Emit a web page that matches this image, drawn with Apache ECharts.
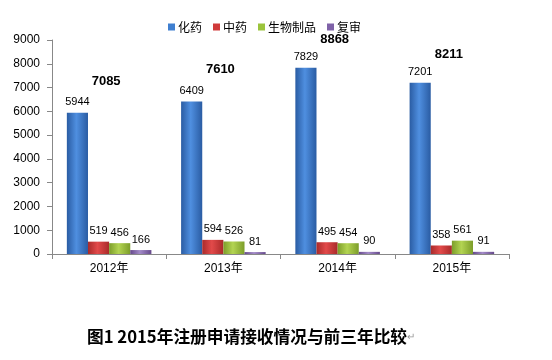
<!DOCTYPE html>
<html>
<head>
<meta charset="utf-8">
<script src="https://cdn.jsdelivr.net/npm/echarts@6/dist/echarts.min.js"></script>
<style>
html,body{margin:0;padding:0;background:#fff;}
#c{width:552px;height:360px;}
</style>
</head>
<body>
<div id="c"></div>
<script>
var categories = ['2012年', '2013年', '2014年', '2015年'];
var seriesNames = ['化药', '中药', '生物制品', '复审'];
var huayao = [5944, 6409, 7829, 7201];
var zhongyao = [519, 594, 495, 358];
var shengwu = [456, 526, 454, 561];
var fushen = [166, 81, 90, 91];
var totals = [7085, 7610, 8868, 8211];
var yTicks = { min: 0, max: 9000, interval: 1000 };
var titleText = '图1 2015年注册申请接收情况与前三年比较';

function grad(dark, light) {
  return new echarts.graphic.LinearGradient(0, 0, 1, 0, [
    { offset: 0, color: dark },
    { offset: 0.45, color: light },
    { offset: 1, color: dark }
  ]);
}
var colors = [
  grad('#2a5ca3', '#4f8fe0'),
  grad('#a92a2a', '#e24a4a'),
  grad('#7c9d2a', '#b3d452'),
  grad('#66498c', '#a38bc8')
];
var legendColors = ['#3f7fd0', '#d03a3a', '#9bc43c', '#7f62a8'];
var values = [huayao, zhongyao, shengwu, fushen];

var chart = echarts.init(document.getElementById('c'), null, { renderer: 'canvas' });
var font = 'Arial, "Liberation Sans", "Noto Sans CJK SC", sans-serif';

var series = values.map(function (arr, i) {
  return {
    name: seriesNames[i],
    type: 'bar',
    data: arr,
    barGap: '0%',
    barCategoryGap: '26%',
    itemStyle: { color: colors[i] },
    label: {
      show: true,
      position: 'top',
      distance: 5,
      color: '#000',
      fontSize: 11,
      fontFamily: font
    }
  };
});
series.push({
  name: 'total',
  type: 'scatter',
  data: totals,
  symbolSize: 0,
  itemStyle: { color: 'rgba(255,255,255,0)' },
  silent: true,
  label: {
    show: true,
    position: 'inside',
    offset: [-3, -4],
    formatter: '{c}',
    color: '#000',
    opacity: 1,
    textBorderWidth: 0,
    fontSize: 13,
    fontWeight: 'bold',
    fontFamily: font
  },
  z: 10
});

chart.setOption({
  animation: false,
  backgroundColor: '#fff',
  color: legendColors,
  title: {
    text: titleText + '{r|↵}',
    left: 82,
    top: 323,
    textStyle: {
      fontSize: 16.7,
      fontWeight: 'bold',
      color: '#000',
      fontFamily: '"Noto Sans CJK SC", sans-serif',
      rich: { r: { fontSize: 10, color: '#999', fontWeight: 'normal' } }
    }
  },
  legend: {
    data: seriesNames.map(function (n, i) {
      return { name: n, itemStyle: { color: legendColors[i] } };
    }),
    top: 16,
    left: 163,
    icon: 'rect',
    itemWidth: 7,
    itemHeight: 7,
    itemGap: 11,
    textStyle: { fontSize: 12, color: '#000', fontFamily: '"Noto Sans CJK SC", sans-serif', padding: [0, 0, 0, -2] }
  },
  grid: { left: 52, right: 43, top: 40, bottom: 106 },
  xAxis: {
    type: 'category',
    data: categories,
    axisLine: { lineStyle: { color: '#888' } },
    axisTick: { show: true, length: 5, lineStyle: { color: '#888' } },
    axisLabel: { color: '#000', fontSize: 12, margin: 9, fontFamily: font }
  },
  yAxis: {
    type: 'value',
    min: yTicks.min,
    max: yTicks.max,
    interval: yTicks.interval,
    axisLine: { show: true, lineStyle: { color: '#888' } },
    axisTick: { show: true, length: 5, lineStyle: { color: '#888' } },
    splitLine: { show: false },
    axisLabel: {
      color: '#000', fontSize: 12, margin: 12, fontFamily: font,
      formatter: function (v) { return String(v); }
    }
  },
  series: series
});
</script>
</body>
</html>
